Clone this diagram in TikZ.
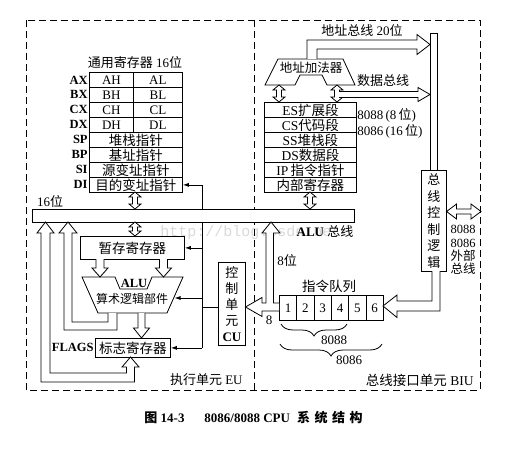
\documentclass[tikz,border=0pt]{standalone}
\usepackage{fontspec}
\setmainfont{Liberation Serif}
\newfontfamily\cjk{Noto Sans CJK SC}
\newfontfamily\wmfont{Liberation Mono}
\newcommand\zh[1]{{\cjk #1}}
\usetikzlibrary{arrows.meta,decorations.pathreplacing}
% small hollow double arrow between two blocks: x, top y, bottom y
\newcommand\updown[3]{\draw[fat] (#1,#2) -- (#1+6,#2+5) -- (#1+2.5,#2+5) -- (#1+2.5,#3-5) -- (#1+6,#3-5) -- (#1,#3) -- (#1-6,#3-5) -- (#1-2.5,#3-5) -- (#1-2.5,#2+5) -- (#1-6,#2+5) -- cycle;}
\begin{document}
\begin{tikzpicture}[x=1pt, y=-1pt, line width=0.8pt,
  box/.style={draw, inner sep=0pt, anchor=north west, font=\fontsize{13}{13}\selectfont},
  reg/.style={box, minimum height=15pt},
  lbl/.style={inner sep=1pt, font=\bfseries\fontsize{12.5}{12.5}\selectfont},
  txt/.style={inner sep=0pt, font=\fontsize{13}{13}\selectfont},
  fat/.style={draw, fill=white, line join=miter},
  arr/.style={-{Latex[length=6pt,width=4pt]}},
  brc/.style={decorate, decoration={brace, amplitude=12pt, mirror}},
  unitline/.style={dash pattern=on 7pt off 4pt}]

\useasboundingbox (0,0) rectangle (510,449);

\node[text=black!15, font=\wmfont\fontsize{15}{15}\selectfont] (wm) at (255,233) {http://blog.csdn.net/};

% EU / BIU borders
\draw[unitline] (26,20) rectangle (480,390);
\draw[unitline] (254,20) -- (254,390);

% general registers
\node[txt] (gptitle) at (135,63) {\zh{通用寄存器} 16\zh{位}};
\foreach \r/\h/\l [count=\i from 0] in {AX/AH/AL,BX/BH/BL,CX/CH/CL,DX/DH/DL}{
  \node[reg, minimum width=44pt] (\h) at (89,72+15*\i) {\h};
  \node[reg, minimum width=49pt] (\l) at (133,72+15*\i) {\l};
  \node[lbl, anchor=east] (\r) at (\h.west) {\r};
}
\foreach \r/\t [count=\i from 4] in {SP/堆栈指针,BP/基址指针,SI/源变址指针,DI/目的变址指针}{
  \node[reg, minimum width=93pt, font=\cjk\fontsize{13.5}{13.5}\selectfont] (\r) at (89,72+15*\i) {\t};
  \node[lbl, anchor=east] (\r-l) at (\r.west) {\r};
}

% segment registers
\foreach \n/\t [count=\i from 0] in {ES/ES\zh{扩展段},CS/CS\zh{代码段},SS/SS\zh{堆栈段},DS/DS\zh{数据段},IP/IP\,\zh{指令指针},IR/\zh{内部寄存器}}{
  \node[reg, minimum width=92pt, font=\fontsize{13.5}{13.5}\selectfont] (\n) at (264,102+15*\i) {\t};
}

% address adder and buses
\draw[fat] (278,59) -- (343,59) -- (355,85) -- (327,85) -- (322,75) -- (300,75) -- (295,85) -- (265,85) -- cycle;
\node[txt, font=\cjk\fontsize{12.5}{12.5}\selectfont] (adder) at (311,68) {地址加法器};
\draw[fat] (307,59) -- (307,40) -- (417,40) -- (417,34.5) -- (430,44.5) -- (417,54.5) -- (417,49) -- (317,49) -- (317,59);
\node[txt] (abus) at (362,31) {\zh{地址总线} 20\zh{位}};
\updown{279}{85}{102}
\updown{337}{85}{102}
\draw[fat] (339.2,91.5) -- (418,91.5) -- (418,87.5) -- (430,94.5) -- (418,101.5) -- (418,97.5) -- (339.2,97.5);
\node[txt] (dbus) at (383,81) {\zh{数据总线}};
\node[txt, anchor=west] (w8) at (357,115) {8088\,(8\,\zh{位})};
\node[txt, anchor=west] (w16) at (357,131) {8086\,(16\,\zh{位})};

% bus line and bus control logic
\node[draw, inner sep=0pt, minimum width=7pt, minimum height=137pt, anchor=north west] (busline) at (430,33) {};
\node[box, minimum width=25pt, minimum height=101pt, align=center, font=\cjk\fontsize{13}{16.5}\selectfont] (bcl) at (421,170) {总\\线\\控\\制\\逻\\辑};
\draw[fat] (446.5,211.5) -- (456.5,204) -- (456.5,209) -- (471,209) -- (471,204) -- (481,211.5) -- (471,219) -- (471,214) -- (456.5,214) -- (456.5,219) -- cycle;
\node[txt, align=center, font=\fontsize{12.5}{13.3}\selectfont] (extbus) at (463,250) {8088\\8086\\\zh{外部}\\\zh{总线}};

% control line from CU
\node[box, minimum width=27pt, minimum height=83pt, align=center, font=\fontsize{13}{16}\selectfont] (cu) at (218,262) {\zh{控}\\\zh{制}\\\zh{单}\\\zh{元}\\\textbf{CU}};
\coordinate (ctop) at (202,184.5);
\coordinate (aluin) at (174.5,298);
\node[box, minimum width=104pt, minimum height=23pt, font=\cjk\fontsize{13.5}{13.5}\selectfont] (tmp) at (80,236) {暂存寄存器};
\node[box, minimum width=75pt, minimum height=19pt, font=\cjk\fontsize{13.5}{13.5}\selectfont] (flags) at (95,338) {标志寄存器};
\node[lbl, anchor=east] (flags-l) at (flags.west) {FLAGS};
\draw (DI.east -| ctop) -- (flags.east -| ctop);
\draw[arr] (DI.east -| ctop) -- (DI.east);
\draw[arr] (tmp.east -| ctop) -- (tmp.east);
\draw[arr] (aluin -| ctop) -- (aluin);
\draw[arr] (flags.east -| ctop) -- (flags.east);
\draw ([yshift=-3.5pt]cu.west) -- ([yshift=-3.5pt]cu.west -| ctop);

% ALU bus
\node[draw, fill=white, inner sep=0pt, minimum width=322pt, minimum height=13pt, anchor=north west] (bus) at (32,209) {};
\node[txt] (b16) at (50,201) {16\zh{位}};
\node[txt] (alubus) at (325,232) {\textbf{ALU} \zh{总线}};
\updown{135}{192}{209}
\updown{135}{222}{236}
\updown{310}{192}{209}

% ALU
\draw (82,277) -- (115,277) -- (120,289) -- (147,289) -- (152,277) -- (183,277) -- (167,313) -- (98,313) -- cycle;
\node[txt, font=\bfseries\fontsize{12.5}{12.5}\selectfont] (alu) at (134,283.5) {ALU};
\node[txt, font=\cjk\fontsize{12}{12}\selectfont] (alutxt) at (132,299) {算术逻辑部件};
\draw[fat] (96,259) -- (96,268) -- (92,268) -- (100,277) -- (108,268) -- (104,268) -- (104,259);
\draw[fat] (159.5,259) -- (159.5,268) -- (155.5,268) -- (163.5,277) -- (171.5,268) -- (167.5,268) -- (167.5,259);
\draw[fat] (138,313) -- (138,328) -- (133.5,328) -- (141.5,338) -- (149.5,328) -- (145,328) -- (145,313);
\draw[fat] (108,313) -- (108,322) -- (72,322) -- (72,233) -- (77,233) -- (68,222) -- (59,233) -- (64,233) -- (64,330) -- (117,330) -- (117,313);
\draw[fat] (126.5,367) -- (122,367) -- (130.5,357) -- (139,367) -- (134.5,367) -- (134.5,382) -- (41,382) -- (41,233) -- (37,233) -- (45.5,222) -- (54,233) -- (50,233) -- (50,373) -- (126.5,373) -- cycle;

% instruction queue
\foreach \i in {1,...,6}
  \node[box, minimum width=17.33pt, minimum height=25pt] (q\i) at (279+17.33*\i-17.33,295) {\i};
\node[txt, font=\cjk\fontsize{13.5}{13.5}\selectfont] (qtitle) at (329,286) {指令队列};
\draw[fat] (279,303) -- (273.5,303) -- (273.5,233) -- (280,233) -- (271,222) -- (262,233) -- (266,233) -- (266,303) -- (262,303) -- (262,297.5) -- (245.5,307) -- (262,316.5) -- (262,311) -- (279,311);
\node[txt] (w8b) at (287,260) {8\zh{位}};
\node[txt] (w8a) at (269,320) {8};
\draw[fat] (432,271) -- (432,301) -- (397,301) -- (397,295) -- (383,306) -- (397,317.5) -- (397,311) -- (440,311) -- (440,271);
\draw[brc] (281,324) -- (347,324);
\node[txt] (n8088) at (334,340) {8088};
\draw[brc] (280,344) -- (382,344);
\node[txt] (n8086) at (349,360) {8086};

% unit names and caption
\node[txt, anchor=east] (eu) at (243,380) {\zh{执行单元} EU};
\node[txt, anchor=east, font=\fontsize{13.5}{13.5}\selectfont] (biu) at (474,380) {\zh{总线接口单元} BIU};
\node[font=\bfseries\fontsize{13}{13}\selectfont] (caption) at (253.5,418) {\zh{图}~14-3\hspace{20pt}8086/8088 CPU\hspace{7pt}\zh{系\hspace{4.5pt}统\hspace{4.5pt}结\hspace{4.5pt}构}};

\end{tikzpicture}
\end{document}
